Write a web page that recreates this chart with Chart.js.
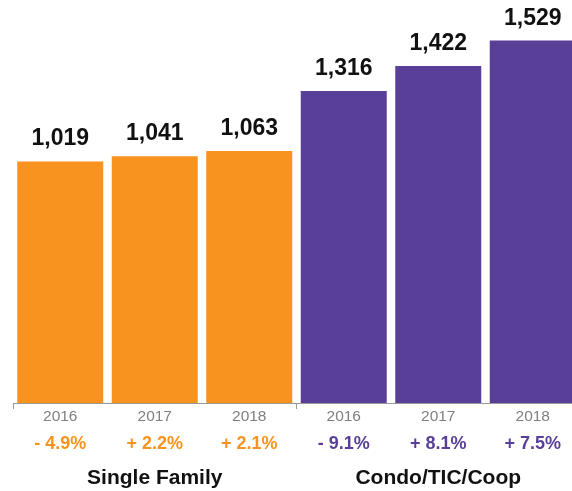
<!DOCTYPE html>
<html>
<head>
<meta charset="utf-8">
<script src="https://cdn.jsdelivr.net/npm/chart.js@4/dist/chart.umd.min.js"></script>
<style>
html,body{margin:0;padding:0;overflow:hidden;background:#fff;}
#c{display:block;}
</style>
</head>
<body>
<canvas id="c" width="580" height="491"></canvas>
<script>
const years = ['2016', '2017', '2018', '2016', '2017', '2018'];
const values = [1019, 1041, 1063, 1316, 1422, 1529];
const changeLabels = ['- 4.9%', '+ 2.2%', '+ 2.1%', '- 9.1%', '+ 8.1%', '+ 7.5%'];
const groups = ['Single Family', 'Condo/TIC/Coop'];
const ORANGE = '#F7931E';
const PURPLE = '#5A3F98';
const barColors = [ORANGE, ORANGE, ORANGE, PURPLE, PURPLE, PURPLE];
const FONT = '"Liberation Sans", Arial, Helvetica, sans-serif';

const valueLabels = {
  id: 'valueLabels',
  afterDatasetsDraw(chart) {
    const ctx = chart.ctx;
    const meta = chart.getDatasetMeta(0);
    ctx.save();
    ctx.font = 'bold 23px ' + FONT;
    ctx.fillStyle = '#111';
    ctx.textAlign = 'center';
    ctx.textBaseline = 'alphabetic';
    meta.data.forEach((bar, i) => {
      ctx.fillText(values[i].toLocaleString('en-US'), bar.x, bar.y - 16);
    });
    ctx.restore();
  }
};

new Chart(document.getElementById('c'), {
  type: 'bar',
  data: {
    labels: years,
    datasets: [{
      data: values,
      backgroundColor: barColors,
      borderWidth: 0,
      categoryPercentage: 1,
      barPercentage: 0.91
    }]
  },
  options: {
    responsive: false,
    animation: false,
    layout: { padding: { left: 13, right: 0, top: 0, bottom: 0 } },
    plugins: { legend: { display: false }, tooltip: { enabled: false } },
    scales: {
      y: { display: false, min: 0, max: 1700 },
      x: {
        position: 'bottom',
        grid: {
          display: true,
          drawOnChartArea: false,
          drawTicks: true,
          tickLength: 6,
          offset: true,
          color: (c) => (c.index % 3 === 0 ? '#9a9a9a' : 'rgba(0,0,0,0)')
        },
        border: { display: true, color: '#9a9a9a', width: 1 },
        ticks: { color: '#7f7f7f', font: { family: FONT, size: 15.5 }, padding: -1.5, maxRotation: 0, autoSkip: false },
        afterFit: (s) => { s.height = 28; }
      },
      x2: {
        type: 'category',
        position: 'bottom',
        labels: changeLabels,
        grid: { display: false, drawTicks: false },
        border: { display: false },
        ticks: {
          color: (c) => barColors[c.index],
          font: { family: FONT, size: 18, weight: 'bold' },
          padding: 2.5, maxRotation: 0, autoSkip: false
        },
        afterFit: (s) => { s.height = 28; }
      },
      x3: {
        type: 'category',
        position: 'bottom',
        labels: groups,
        grid: { display: false, drawTicks: false },
        border: { display: false },
        ticks: {
          color: '#111',
          font: { family: FONT, size: 21, weight: 'bold' },
          padding: 6.5, maxRotation: 0, autoSkip: false
        },
        afterFit: (s) => { s.height = 32; }
      }
    }
  },
  plugins: [valueLabels]
});
</script>
</body>
</html>
